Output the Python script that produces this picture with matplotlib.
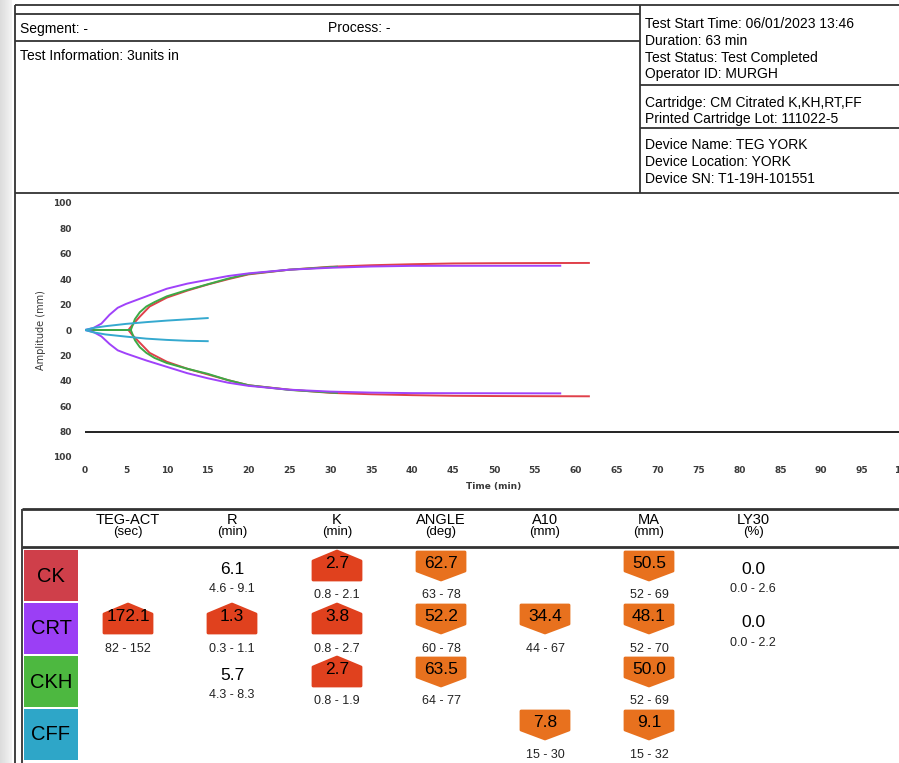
"""
TEG 报告页：描记曲线 + 结果表
"""
import matplotlib.pyplot as plt
import numpy as np
from matplotlib.patches import Polygon, Rectangle

W, H = 899, 763

# ---- 描记曲线 (time min, amplitude mm) ----
ck_t_up = [0, 5.3, 5.8, 6.7, 7.9, 10, 12.5, 15, 17.5, 20, 25, 30, 35, 40, 45, 50, 55, 61.6]
ck_a_up = [0, 0, 4, 10.5, 18.5, 25.5, 31, 35.8, 40, 43.8, 47.5, 49.8, 51, 51.8, 52.4, 52.6, 52.7, 52.8]
ck_t_lo = [0, 5.3, 5.8, 6.7, 7.9, 10, 12.5, 15, 17.5, 20, 25, 30, 35, 40, 45, 50, 55, 61.6]
ck_a_lo = [0, 0, -4, -10, -18, -25, -30.5, -35, -39.5, -43.5, -47, -49.5, -50.6, -51.3, -51.8, -52, -52.1, -52.2]

crt_t_up = [0, 1, 2, 3, 4, 5, 7.5, 10, 12.5, 15, 17.5, 20, 25, 30, 35, 40, 58.1]
crt_a_up = [0, 1.5, 5, 12, 17.5, 20.5, 26.5, 32.5, 36.5, 39.5, 42.5, 44.6, 47.5, 49, 50, 50.5, 50.6]
crt_t_lo = [0, 1, 2, 3, 4, 5, 7.5, 10, 12.5, 15, 17.5, 20, 25, 30, 35, 40, 58.1]
crt_a_lo = [0, -1.5, -5, -11, -16, -18.5, -24, -29, -34, -38, -41.5, -44, -47, -48.5, -49.3, -49.7, -49.9]

ckh_t_up = [0, 5.6, 6.1, 6.7, 7.5, 8.5, 10, 12.5, 15, 17.5, 20, 25, 30.8]
ckh_a_up = [0, 0, 8.5, 14, 18.5, 22, 26.5, 31.5, 36, 40.5, 44.2, 47.5, 49.8]
ckh_t_lo = [0, 5.6, 6.1, 6.7, 7.5, 8.5, 10, 12.5, 15, 17.5, 20, 25, 30.8]
ckh_a_lo = [0, 0, -8, -13.5, -18, -22, -26, -30.5, -34.5, -39.5, -43.5, -47.2, -49.5]

cff_t_up = [0, 1, 2.5, 5, 7.5, 10, 12.5, 15]
cff_a_up = [0, 1.6, 3, 4.8, 6.2, 7.4, 8.4, 9.4]
cff_t_lo = [0, 1, 2.5, 5, 7.5, 10, 12.5, 15]
cff_a_lo = [0, -1.8, -3.5, -5.2, -6.8, -7.8, -8.5, -8.8]

# ---- 结果表 ----
rows = ['CK', 'CRT', 'CKH', 'CFF']
row_colors = ['#cf3f4a', '#9b3ff5', '#4db840', '#2ea6c8']
line_colors = ['#e0404a', '#a042fa', '#3caa46', '#35a9cf']
columns = ['TEG-ACT', 'R', 'K', 'ANGLE', 'A10', 'MA', 'LY30']
units = ['(sec)', '(min)', '(min)', '(deg)', '(mm)', '(mm)', '(%)']

ck_vals = [None, 6.1, 2.7, 62.7, None, 50.5, 0.0]
ck_ranges = [None, '4.6 - 9.1', '0.8 - 2.1', '63 - 78', None, '52 - 69', '0.0 - 2.6']
crt_vals = [172.1, 1.3, 3.8, 52.2, 34.4, 48.1, 0.0]
crt_ranges = ['82 - 152', '0.3 - 1.1', '0.8 - 2.7', '60 - 78', '44 - 67', '52 - 70', '0.0 - 2.2']
ckh_vals = [None, 5.7, 2.7, 63.5, None, 50.0, None]
ckh_ranges = [None, '4.3 - 8.3', '0.8 - 1.9', '64 - 77', None, '52 - 69', None]
cff_vals = [None, None, None, None, 7.8, 9.1, None]
cff_ranges = [None, None, None, None, '15 - 30', '15 - 32', None]

header_left = ['Segment: -', 'Process: -', 'Test Information: 3units in']
info_block1 = ['Test Start Time: 06/01/2023 13:46', 'Duration: 63 min',
               'Test Status: Test Completed', 'Operator ID: MURGH']
info_block2 = ['Cartridge: CM Citrated K,KH,RT,FF', 'Printed Cartridge Lot: 111022-5']
info_block3 = ['Device Name: TEG YORK', 'Device Location: YORK', 'Device SN: T1-19H-101551']

FONT = 'Liberation Sans'
EDGE = '#333333'
HIGH = '#e0411e'
LOW = '#e8711e'

fig = plt.figure(figsize=(W / 100, H / 100), dpi=100)
page = fig.add_axes([0, 0, 1, 1])
page.set_xlim(0, W)
page.set_ylim(H, 0)
page.axis('off')

# 左侧灰条
grad = np.linspace(0.86, 0.95, 12).reshape(1, -1)
page.imshow(np.repeat(grad, 2, axis=0), cmap='gray', vmin=0, vmax=1,
            extent=(0, 12, H, 0), aspect='auto', zorder=0)


def hline(y, x0, x1, lw=1.3):
    page.plot([x0, x1], [y, y], color=EDGE, lw=lw, solid_capstyle='butt')


def vline(x, y0, y1, lw=1.3):
    page.plot([x, x], [y0, y1], color=EDGE, lw=lw, solid_capstyle='butt')


# 表头框线
vline(15, 5, H)
hline(5, 15, W)
hline(14, 15, 640)
hline(41, 15, 640)
vline(640, 5, 193)
hline(85, 640, W)
hline(128, 640, W)
hline(193, 15, W)

page.text(20.5, 32.5, header_left[0], fontsize=10, family=FONT, va='baseline')
page.text(328, 32.5, header_left[1], fontsize=10, family=FONT, va='baseline')
page.text(20.5, 59.5, header_left[2], fontsize=10, family=FONT, va='baseline')
for i, s in enumerate(info_block1):
    page.text(645, 28 + 16.8 * i, s, fontsize=10, family=FONT, va='baseline')
for i, s in enumerate(info_block2):
    page.text(645, 106.7 + 16.8 * i, s, fontsize=10, family=FONT, va='baseline')
for i, s in enumerate(info_block3):
    page.text(645, 149 + 16.8 * i, s, fontsize=10, family=FONT, va='baseline')

# ---- 描记图 ----
ax = fig.add_axes([85 / W, 1 - 457 / H, 818 / W, 254 / H])
ax.set_xlim(0, 100)
ax.set_ylim(-100, 100)
ax.patch.set_alpha(0)
for sp in ax.spines.values():
    sp.set_visible(False)
ax.axhline(-80, color='#222222', lw=1.4)

traces = [
    (ck_t_up, ck_a_up, ck_t_lo, ck_a_lo, line_colors[0]),
    (ckh_t_up, ckh_a_up, ckh_t_lo, ckh_a_lo, line_colors[2]),
    (crt_t_up, crt_a_up, crt_t_lo, crt_a_lo, line_colors[1]),
    (cff_t_up, cff_a_up, cff_t_lo, cff_a_lo, line_colors[3]),
]
for tu, au, tl, al, c in traces:
    ax.plot(tu, au, color=c, lw=1.4, solid_joinstyle='round')
    ax.plot(tl, al, color=c, lw=1.4, solid_joinstyle='round')

tick_font = dict(family='DejaVu Sans', weight='bold', size=6.5, color='#3a3a3a')
ax.set_xticks(range(0, 101, 5))
ax.set_xticklabels([str(v) for v in range(0, 101, 5)], **tick_font)
ax.set_yticks(range(-100, 101, 20))
ax.set_yticklabels([str(abs(v)) for v in range(-100, 101, 20)], **tick_font)
ax.tick_params(axis='x', length=0, pad=6.5)
ax.tick_params(axis='y', length=0, pad=9.4)
ax.set_xlabel('Time (min)', labelpad=5, **tick_font)
ax.set_ylabel('Amplitude (mm)', labelpad=5, family='DejaVu Sans', size=7, color='#3a3a3a')

# ---- 结果表 ----
hline(509, 22, W, lw=2)
hline(547, 22, W, lw=2)
vline(22, 509, H)

col_x = [128, 232, 337, 441, 545, 649, 753]
for x, name, u in zip(col_x, columns, units):
    page.text(x, 523.5, name, fontsize=10.5, family=FONT, ha='center', va='baseline')
    page.text(x, 535, u, fontsize=9.5, family=FONT, ha='center', va='baseline')


def badge(cx, y0, kind):
    hw = 24
    if kind == 'high':
        pts = [(cx - hw, y0 + 30), (cx - hw, y0 + 11), (cx, y0 + 1),
               (cx + hw, y0 + 11), (cx + hw, y0 + 30)]
        c = HIGH
    else:
        pts = [(cx - hw, y0 + 2), (cx + hw, y0 + 2), (cx + hw, y0 + 21),
               (cx, y0 + 30), (cx - hw, y0 + 21)]
        c = LOW
    page.add_patch(Polygon(pts, closed=True, fc=c, ec=c, lw=2, joinstyle='round', zorder=2))


all_vals = [ck_vals, crt_vals, ckh_vals, cff_vals]
all_ranges = [ck_ranges, crt_ranges, ckh_ranges, cff_ranges]
for r, (name, color) in enumerate(zip(rows, row_colors)):
    y0 = 550 + 53 * r
    page.add_patch(Rectangle((24, y0), 54, 51, fc=color, ec='none'))
    page.text(51, y0 + 31.5, name, fontsize=14.5, family=FONT, ha='center', va='baseline')
    for x, v, rng in zip(col_x, all_vals[r], all_ranges[r]):
        if v is None:
            continue
        lo, hi = [float(s) for s in rng.split(' - ')]
        if v > hi or v < lo:
            badge(x, y0, 'high' if v > hi else 'low')
            page.text(x, y0 + 18.2, f'{v:.1f}', fontsize=12.5, family=FONT,
                      ha='center', va='baseline', zorder=3)
            page.text(x, y0 + 48.5, rng, fontsize=9, family=FONT, color='#222222',
                      ha='center', va='baseline')
        else:
            page.text(x, y0 + 24.2, f'{v:.1f}', fontsize=12.5, family=FONT,
                      ha='center', va='baseline')
            page.text(x, y0 + 42.5, rng, fontsize=9, family=FONT, color='#222222',
                      ha='center', va='baseline')

fig.savefig('out.png', dpi=100)
plt.close(fig)
